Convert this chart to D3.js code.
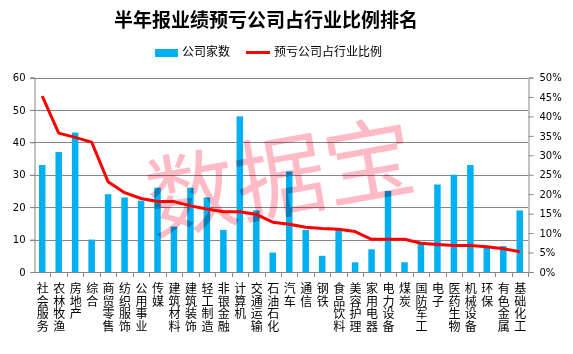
<!DOCTYPE html>
<html>
<head>
<meta charset="utf-8">
<script src="https://cdn.jsdelivr.net/npm/d3@7"></script>
<style>
  body { margin: 0; background: #fff; }
  svg { display: block; }
  .tick text { font-family: "DejaVu Sans", sans-serif; font-size: 10px; fill: #000; }
  .grid line { stroke: #868686; }
</style>
</head>
<body>
<script>
// industries, in the order shown
var industries = ["社会服务","农林牧渔","房地产","综合","商贸零售","纺织服饰","公用事业","传媒","建筑材料","建筑装饰",
  "轻工制造","非银金融","计算机","交通运输","石油石化","汽车","通信","钢铁","食品饮料","美容护理",
  "家用电器","电力设备","煤炭","国防军工","电子","医药生物","机械设备","环保","有色金属","基础化工"];
// number of companies with expected H1 loss
var companyCount = [33,37,43,10,24,23,22,26,14,26, 23,13,48,19,6,31,13,5,13,3, 7,25,3,9,27,30,33,8,8,19];
// share of loss companies in the industry (%)
var lossShare = [45.2,35.7,34.6,33.4,23.2,20.4,18.9,18.1,18.1,17.0, 16.2,15.5,15.5,14.8,12.8,12.3,11.5,11.2,11.0,10.4,
  8.4,8.4,8.4,7.4,7.1,6.8,6.8,6.5,6.0,5.2];
var leftTicks = [0,10,20,30,40,50,60];
var rightTicks = [0,5,10,15,20,25,30,35,40,45,50];

var W = 573, H = 354;
var plotLeft = 34, plotRight = 528, plotTop = 77.5, plotBottom = 272;

var svg = d3.select("body").append("svg")
  .attr("width", W)
  .attr("height", H);

var x = d3.scaleBand().domain(industries).range([plotLeft, plotRight]);
var y = d3.scaleLinear().domain([0, 60]).range([plotBottom, plotTop]);
var y2 = d3.scaleLinear().domain([0, 50]).range([plotBottom, plotTop]);

// gridlines
svg.append("g")
  .attr("class", "grid")
  .selectAll("line")
  .data(leftTicks.slice(1))
  .join("line")
  .attr("x1", plotLeft - 4)
  .attr("x2", plotRight)
  .attr("y1", function(d) { return Math.round(y(d)) + 0.5; })
  .attr("y2", function(d) { return Math.round(y(d)) + 0.5; });

// bars
var barW = 6.5;
svg.append("g")
  .selectAll("rect")
  .data(companyCount)
  .join("rect")
  .attr("x", function(d, i) { return x(industries[i]) + x.bandwidth() / 2 - barW / 2; })
  .attr("y", function(d) { return y(d); })
  .attr("width", barW)
  .attr("height", function(d) { return plotBottom - y(d); })
  .attr("fill", "#00b0f0");

// left axis
var leftAxis = svg.append("g")
  .attr("transform", "translate(" + (plotLeft + 0.5) + ",0)")
  .call(d3.axisLeft(y).tickValues(leftTicks).tickSize(4).tickPadding(5));
leftAxis.selectAll("line, path").attr("stroke", "#868686");

// right axis
var rightAxis = svg.append("g")
  .attr("transform", "translate(" + (plotRight + 0.5) + ",0)")
  .call(d3.axisRight(y2).tickValues(rightTicks).tickSize(5).tickPadding(6)
    .tickFormat(function(d) { return d + "%"; }));
rightAxis.selectAll("line, path").attr("stroke", "#868686");

// bottom axis with ticks between categories
var bottom = svg.append("g");
bottom.append("line")
  .attr("x1", plotLeft).attr("x2", plotRight)
  .attr("y1", plotBottom + 0.5).attr("y2", plotBottom + 0.5)
  .attr("stroke", "#868686");
bottom.selectAll(".sep")
  .data(industries)
  .join("line")
  .attr("x1", function(d) { return Math.round(x(d) + x.bandwidth()) + 0.5; })
  .attr("x2", function(d) { return Math.round(x(d) + x.bandwidth()) + 0.5; })
  .attr("y1", plotBottom)
  .attr("y2", plotBottom + 5)
  .attr("stroke", "#868686");

// vertical category labels, one char per row
var labels = bottom.selectAll(".lab")
  .data(industries)
  .join("text")
  .attr("font-family", "'Noto Sans CJK SC', sans-serif")
  .attr("font-size", 12)
  .attr("text-anchor", "middle")
  .attr("fill", "#000");
labels.each(function(d) {
  var t = d3.select(this);
  var cx = x(d) + x.bandwidth() / 2 + 0.5;
  d.split("").forEach(function(c, k) {
    t.append("tspan")
      .attr("x", cx)
      .attr("y", 293 + k * 12.5)
      .text(c);
  });
});

// ratio line
var line = d3.line()
  .x(function(d, i) { return x(industries[i]) + x.bandwidth() / 2; })
  .y(function(d) { return y2(d); });
svg.append("path")
  .datum(lossShare)
  .attr("d", line)
  .attr("fill", "none")
  .attr("stroke", "#ff0000")
  .attr("stroke-width", 3)
  .attr("stroke-linejoin", "round");

// title
svg.append("text")
  .attr("x", 266)
  .attr("y", 27)
  .attr("text-anchor", "middle")
  .attr("font-family", "'Noto Sans CJK SC', sans-serif")
  .attr("font-weight", "bold")
  .attr("font-size", 19)
  .text("半年报业绩预亏公司占行业比例排名");

// legend
var legend = svg.append("g").attr("font-family", "'Noto Sans CJK SC', sans-serif").attr("font-size", 12);
legend.append("rect").attr("x", 155).attr("y", 49).attr("width", 23).attr("height", 8).attr("fill", "#00b0f0");
legend.append("text").attr("x", 182).attr("y", 56).text("公司家数");
legend.append("line").attr("x1", 246).attr("x2", 270).attr("y1", 52.5).attr("y2", 52.5)
  .attr("stroke", "#ff0000").attr("stroke-width", 3);
legend.append("text").attr("x", 274).attr("y", 56).text("预亏公司占行业比例");

// watermark
svg.append("text")
  .attr("transform", "translate(286,210) rotate(-10)")
  .attr("text-anchor", "middle")
  .attr("font-family", "'Noto Sans CJK SC', sans-serif")
  .attr("font-weight", 400)
  .attr("font-size", 90)
  .attr("fill", "#ffbac5")
  .style("mix-blend-mode", "multiply")
  .text("数据宝");
</script>
</body>
</html>
